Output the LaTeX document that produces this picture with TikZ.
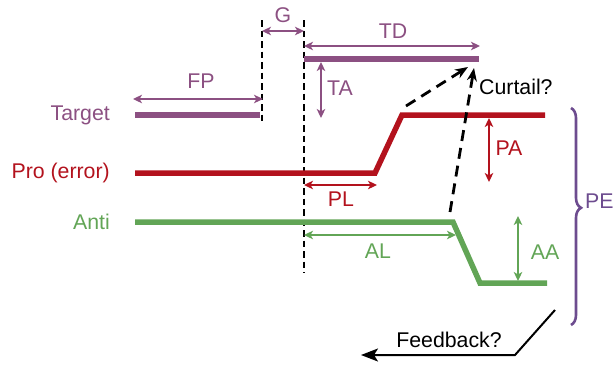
\documentclass[tikz,border=0pt]{standalone}
\usepackage{fontspec}
\setmainfont{Liberation Sans}
\usetikzlibrary{arrows.meta,decorations.pathreplacing}
\definecolor{tpurple}{HTML}{8C5082}
\definecolor{bpurple}{HTML}{6D4C8F}
\definecolor{pred}{HTML}{B3121D}
\definecolor{agreen}{HTML}{62A556}
\begin{document}
\begin{tikzpicture}[x=1pt,y=-1pt,
  lbl/.style={font=\fontsize{21.3}{25}\selectfont, inner sep=0pt},
  bar/.style={line width=5.5pt},
  dim/.style={line width=2pt,{Stealth[length=9pt,width=8.5pt,inset=2.5pt]}-{Stealth[length=9pt,width=8.5pt,inset=2.5pt]}},
  vdash/.style={line width=1.7pt, dash pattern=on 6.5pt off 4pt},
  qarrow/.style={line width=2.8pt, dash pattern=on 11pt off 7pt, -{Stealth[length=13pt,width=10pt]}}]
\useasboundingbox (0,0) rectangle (614,365);
% coordinates
\coordinate (tgA) at (135,115); \coordinate (tgB) at (260,115);
\coordinate (tdA) at (304,59); \coordinate (tdB) at (479,59);
\coordinate (prA) at (135,173); \coordinate (prB) at (375,173);
\coordinate (prC) at (402,115); \coordinate (prD) at (545,115);
\coordinate (anA) at (135,222); \coordinate (anB) at (453,222);
\coordinate (anC) at (480,283); \coordinate (anD) at (547,283);
% dashed verticals
\coordinate (d1t) at (262,20); \coordinate (d1b) at (262,121);
\coordinate (d2t) at (304,20); \coordinate (d2b) at (304,273);
\draw[vdash] (d1t) -- (d1b);
\draw[vdash] (d2t) -- (d2b);
% labels
\node[lbl, anchor=east, text=tpurple] (ltarget) at (110,115) {Target};
\node[lbl, anchor=east, text=pred] (lpro) at (110,173) {Pro (error)};
\node[lbl, anchor=east, text=agreen] (lanti) at (110,222) {Anti};
% bars
\draw[bar, tpurple] (tgA) -- (tgB);
\draw[bar, tpurple] (tdA) -- (tdB);
\draw[bar, pred, line join=miter] (prA) -- (prB) -- (prC) -- (prD);
\draw[bar, agreen, line join=miter] (anA) -- (anB) -- (anC) -- (anD);
% FP
\coordinate (fpA) at (133,99); \coordinate (fpB) at (263,99);
\draw[dim, tpurple] (fpA) -- (fpB);
\node[lbl, text=tpurple] (lfp) at (201,81) {FP};
% G
\coordinate (gA) at (262,31); \coordinate (gB) at (304,31);
\draw[dim, tpurple] (gA) -- (gB);
\node[lbl, text=tpurple] (lg) at (283,15) {G};
% TD
\coordinate (tdaA) at (304,46); \coordinate (tdaB) at (480,46);
\draw[dim, tpurple] (tdaA) -- (tdaB);
\node[lbl, text=tpurple] (ltd) at (393,31) {TD};
% TA
\coordinate (taA) at (321,62); \coordinate (taB) at (321,118);
\draw[dim, tpurple] (taA) -- (taB);
\node[lbl, text=tpurple] (lta) at (340,88) {TA};
% PL
\coordinate (plA) at (304,185); \coordinate (plB) at (377,185);
\draw[dim, pred] (plA) -- (plB);
\node[lbl, text=pred] (lpl) at (341,199) {PL};
% PA
\coordinate (paA) at (489,118); \coordinate (paB) at (489,182);
\draw[dim, pred] (paA) -- (paB);
\node[lbl, text=pred] (lpa) at (509,148) {PA};
% AL
\coordinate (alA) at (304,235); \coordinate (alB) at (456,235);
\draw[dim, agreen] (alA) -- (alB);
\node[lbl, text=agreen] (lal) at (378,251) {AL};
% AA
\coordinate (aaA) at (518,216); \coordinate (aaB) at (518,281);
\draw[dim, agreen] (aaA) -- (aaB);
\node[lbl, text=agreen] (laa) at (545,252) {AA};
% brace
\coordinate (brT) at (571,108); \coordinate (brB) at (571,325);
\draw[bpurple, line width=2.6pt, decorate, decoration={brace, amplitude=10pt, aspect=0.46}] (brT) -- (brB);
\node[lbl, text=bpurple, anchor=west] (lpe) at (585,201) {PE};
% curtail
\coordinate (c1s) at (406,106); \coordinate (c1e) at (468,67);
\coordinate (c2s) at (450,212); \coordinate (c2e) at (474,68);
\draw[qarrow] (c1s) -- (c1e);
\draw[qarrow] (c2s) -- (c2e);
\node[lbl, anchor=west] (lcurt) at (479,87) {Curtail?};
% feedback
\coordinate (fbA) at (555,310); \coordinate (fbB) at (515,355); \coordinate (fbC) at (361,355);
\draw[line width=2pt, -{Stealth[length=17pt,width=13pt,inset=4pt]}] (fbA) -- (fbB) -- (fbC);
\node[lbl] (lfb) at (449,340) {Feedback?};
\end{tikzpicture}
\end{document}
